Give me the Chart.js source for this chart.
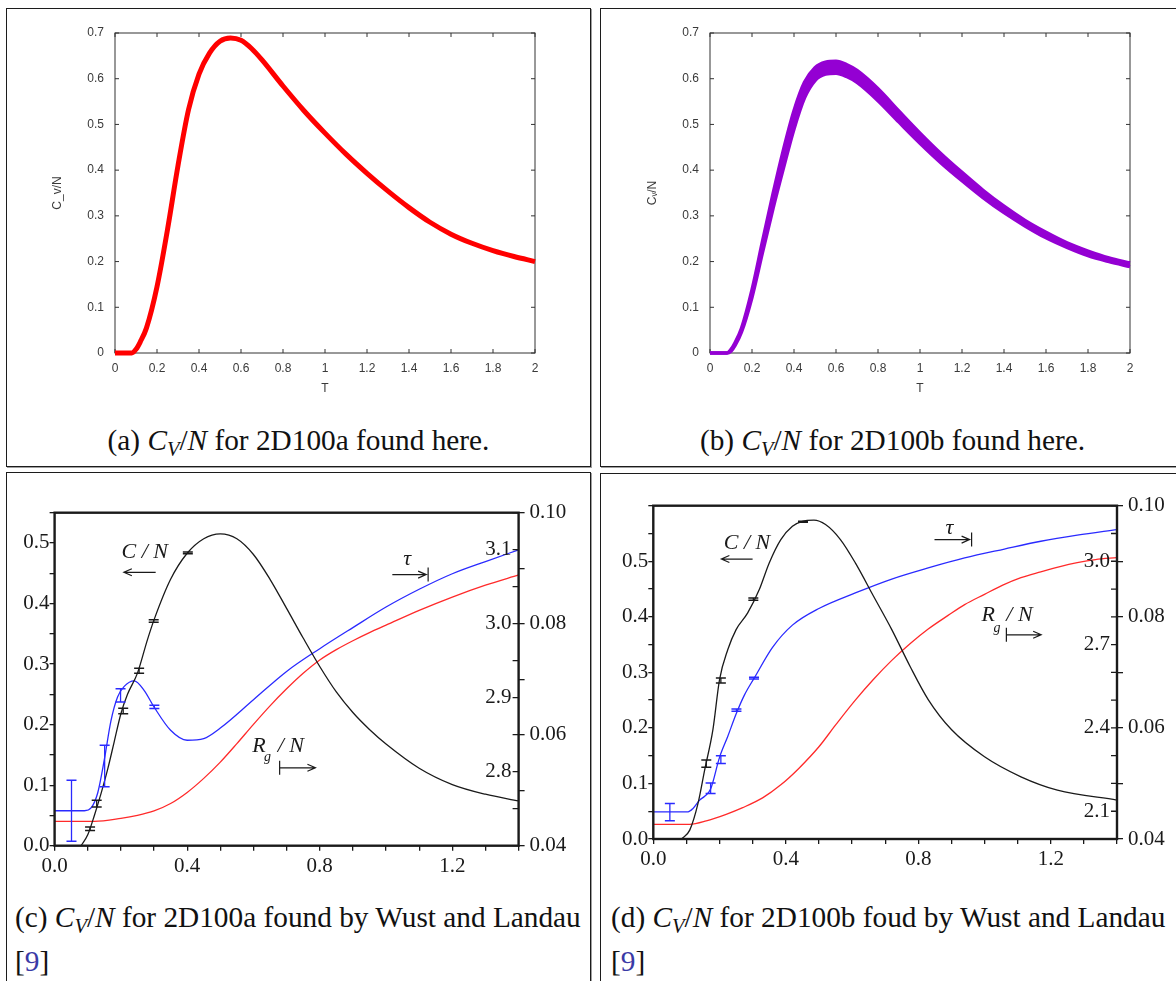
<!DOCTYPE html>
<html>
<head>
<meta charset="utf-8">
<title>C_V/N for 2D100a and 2D100b</title>
<script src="https://cdn.jsdelivr.net/npm/chart.js@4/dist/chart.umd.min.js"></script>
<style>
  html, body { margin: 0; padding: 0; background: #fff; }
  body { position: relative; width: 1176px; height: 981px; overflow: hidden; }
  .box { position: absolute; box-sizing: border-box; border: 1px solid #1c1c1c; box-shadow: 1px 1px 0 #a0a0a0; }
  canvas { position: absolute; }
  .cap { position: absolute; font-family: "Liberation Serif", "DejaVu Serif", serif; font-size: 23px; line-height: 30px; color: #111; white-space: nowrap; }
  .cap i { font-style: italic; }
  .cap sub { font-size: 0.7em; vertical-align: -0.3em; line-height: 0; }
  .cite { color: #3a3aa6; }
</style>
</head>
<body>
<div class="box" style="left:6px;top:8px;width:585px;height:459px"></div>
<div class="box" style="left:600px;top:8px;width:585px;height:459px"></div>
<div class="box" style="left:6px;top:472px;width:585px;height:530px"></div>
<div class="box" style="left:600px;top:473px;width:585px;height:530px"></div>

<canvas id="cvA" width="584" height="400" style="left:7px;top:10px"></canvas>
<canvas id="cvB" width="574" height="400" style="left:602px;top:10px"></canvas>
<canvas id="cvC" width="584" height="420" style="left:7px;top:473px"></canvas>
<canvas id="cvD" width="574" height="420" style="left:602px;top:476px"></canvas>

<div class="cap" style="left:6px;width:585px;top:425px;text-align:center">(a) <i>C</i><sub><i>V</i></sub>/<i>N</i> for 2D100a found here.</div>
<div class="cap" style="left:600px;width:585px;top:425px;text-align:center">(b) <i>C</i><sub><i>V</i></sub>/<i>N</i> for 2D100b found here.</div>
<div class="cap" id="capC" style="left:15px;top:902px">(c) <i>C</i><sub><i>V</i></sub>/<i>N</i> for 2D100a found by Wust and Landau</div>
<div class="cap" style="left:15px;top:946px">[<span class="cite">9</span>]</div>
<div class="cap" style="left:611px;top:902px">(d) <i>C</i><sub><i>V</i></sub>/<i>N</i> for 2D100b foud by Wust and Landau</div>
<div class="cap" style="left:611px;top:946px">[<span class="cite">9</span>]</div>

<script>
// Data ---

// (a) and (b): C_V/N against T, this work
const tA = [0, 0.08, 0.1, 0.12, 0.15, 0.2, 0.25, 0.3, 0.35, 0.4, 0.45, 0.5, 0.55, 0.6, 0.65, 0.7, 0.8, 0.9, 1.0, 1.1, 1.2, 1.3, 1.4, 1.5, 1.6, 1.7, 1.8, 1.9, 2.0];
const cvA = [0, 0, 0.008, 0.024, 0.055, 0.145, 0.27, 0.41, 0.532, 0.61, 0.656, 0.682, 0.689, 0.684, 0.666, 0.641, 0.584, 0.53, 0.481, 0.435, 0.393, 0.354, 0.318, 0.286, 0.26, 0.24, 0.224, 0.211, 0.2];
const tB = [0, 0.08, 0.1, 0.12, 0.15, 0.2, 0.25, 0.3, 0.35, 0.4, 0.45, 0.5, 0.55, 0.6, 0.65, 0.7, 0.8, 0.9, 1.0, 1.1, 1.2, 1.3, 1.4, 1.5, 1.6, 1.7, 1.8, 1.9, 2.0];
const cvBHi = [0, 0, 0.008, 0.023, 0.054, 0.138, 0.244, 0.348, 0.445, 0.53, 0.592, 0.624, 0.636, 0.638, 0.631, 0.618, 0.578, 0.529, 0.481, 0.436, 0.395, 0.356, 0.321, 0.29, 0.264, 0.241, 0.223, 0.208, 0.197];
const cvBLo = [0, 0, 0.004, 0.017, 0.046, 0.122, 0.22, 0.316, 0.405, 0.49, 0.558, 0.596, 0.61, 0.612, 0.605, 0.592, 0.552, 0.505, 0.459, 0.416, 0.377, 0.34, 0.307, 0.278, 0.252, 0.231, 0.213, 0.2, 0.189];

// (c) Wust and Landau, 2D100a
const tCc = [0.08, 0.1, 0.12, 0.14, 0.16, 0.18, 0.2, 0.22, 0.25, 0.28, 0.3, 0.35, 0.4, 0.45, 0.5, 0.55, 0.6, 0.65, 0.7, 0.75, 0.8, 0.85, 0.9, 0.95, 1.0, 1.1, 1.2, 1.3, 1.4];
const cC = [0, 0.018, 0.05, 0.086, 0.126, 0.172, 0.218, 0.25, 0.285, 0.34, 0.373, 0.44, 0.483, 0.507, 0.515, 0.507, 0.481, 0.44, 0.392, 0.343, 0.296, 0.254, 0.22, 0.192, 0.168, 0.128, 0.101, 0.085, 0.074];
const tTauC = [0, 0.09, 0.11, 0.13, 0.15, 0.17, 0.19, 0.21, 0.24, 0.27, 0.3, 0.35, 0.4, 0.45, 0.5, 0.6, 0.7, 0.8, 0.9, 1.0, 1.1, 1.2, 1.3, 1.4];
const tauC = [0.0463, 0.0463, 0.0468, 0.0495, 0.0555, 0.0625, 0.0668, 0.0687, 0.0697, 0.068, 0.065, 0.0608, 0.059, 0.0593, 0.0612, 0.0663, 0.0714, 0.0755, 0.0793, 0.083, 0.0862, 0.089, 0.0912, 0.0933];
const tRgC = [0, 0.12, 0.2, 0.25, 0.3, 0.35, 0.4, 0.45, 0.5, 0.55, 0.6, 0.65, 0.7, 0.75, 0.8, 0.85, 0.9, 0.95, 1.0, 1.1, 1.2, 1.3, 1.4];
const rgC = [2.733, 2.733, 2.737, 2.741, 2.747, 2.757, 2.772, 2.791, 2.813, 2.838, 2.864, 2.889, 2.912, 2.933, 2.951, 2.965, 2.977, 2.988, 2.998, 3.018, 3.036, 3.052, 3.066];
const cErrT = [0.107, 0.127, 0.207, 0.255, 0.299, 0.402];
const cErrLo = [0.025, 0.064, 0.218, 0.285, 0.369, 0.482];
const cErrHi = [0.031, 0.075, 0.227, 0.293, 0.373, 0.485];
const tauErrTC = [0.051, 0.151, 0.199, 0.301];
const tauErrLoC = [0.0408, 0.0506, 0.0659, 0.0647];
const tauErrHiC = [0.0518, 0.0581, 0.0683, 0.0653];

// (d) Wust and Landau, 2D100b
const tCd = [0.085, 0.11, 0.135, 0.155, 0.18, 0.2, 0.225, 0.25, 0.285, 0.32, 0.35, 0.385, 0.42, 0.45, 0.485, 0.52, 0.565, 0.61, 0.665, 0.72, 0.775, 0.83, 0.9, 1.0, 1.11, 1.22, 1.4];
const cD = [0, 0.016, 0.064, 0.124, 0.197, 0.287, 0.341, 0.377, 0.407, 0.449, 0.497, 0.539, 0.563, 0.572, 0.574, 0.566, 0.539, 0.497, 0.437, 0.377, 0.311, 0.251, 0.197, 0.148, 0.112, 0.088, 0.07];
const tTauD = [0, 0.105, 0.12, 0.14, 0.155, 0.173, 0.2, 0.225, 0.25, 0.275, 0.305, 0.36, 0.42, 0.5, 0.61, 0.72, 0.83, 0.94, 1.06, 1.17, 1.28, 1.4];
const tauD = [0.0449, 0.0449, 0.0455, 0.047, 0.0477, 0.049, 0.0547, 0.0585, 0.0625, 0.0659, 0.069, 0.0745, 0.0785, 0.0815, 0.0843, 0.0868, 0.0888, 0.0906, 0.0922, 0.0936, 0.0947, 0.0957];
const tRgD = [0, 0.11, 0.16, 0.22, 0.27, 0.33, 0.385, 0.44, 0.5, 0.55, 0.61, 0.665, 0.72, 0.775, 0.83, 0.89, 0.94, 1.0, 1.055, 1.11, 1.17, 1.225, 1.28, 1.335, 1.4];
const rgD = [2.053, 2.053, 2.065, 2.089, 2.113, 2.148, 2.195, 2.255, 2.332, 2.41, 2.5, 2.575, 2.643, 2.703, 2.756, 2.805, 2.844, 2.881, 2.914, 2.941, 2.962, 2.98, 2.995, 3.006, 3.013];
const dErrT = [0.16, 0.204, 0.302, 0.452];
const dErrLo = [0.129, 0.281, 0.43, 0.57];
const dErrHi = [0.142, 0.29, 0.434, 0.572];
const tauErrTD = [0.05, 0.173, 0.204, 0.251, 0.304];
const tauErrLoD = [0.0433, 0.0482, 0.0536, 0.063, 0.0688];
const tauErrHiD = [0.0464, 0.0501, 0.055, 0.0634, 0.0691];

// Tick labels
const xLabelsWL = [0, 0.4, 0.8, 1.2];
const yLabelsWL = [0, 0.1, 0.2, 0.3, 0.4, 0.5];
const tauLabels = [0.04, 0.06, 0.08, 0.1];
const rgLabelsC = [2.8, 2.9, 3.0, 3.1];
const rgLabelsD = [2.1, 2.4, 2.7, 3.0];

// Setup ---

const SERIF = '"Liberation Serif", "DejaVu Serif", serif';
const SANS = '"Liberation Sans", Arial, sans-serif';
const INK = '#1a1a1a';

Chart.defaults.animation = false;
Chart.defaults.events = [];
Chart.defaults.plugins.legend.display = false;
Chart.defaults.plugins.tooltip.enabled = false;

// caption size: make (c) as wide as in the paper
const capC = document.getElementById('capC');
const capSize = 23 * 566 / capC.getBoundingClientRect().width;
document.querySelectorAll('.cap').forEach((el) => (el.style.fontSize = capSize + 'px'));

const pts = (xs, ys) => xs.map((x, i) => ({ x: x, y: ys[i] }));
const bars = (xs, lo, hi) => xs.flatMap((x, i) => [{ x: x, y: lo[i] }, { x: x, y: hi[i] }, { x: x, y: null }]);
const isIn = (list, v) => list.some((u) => Math.abs(u - v) < 1e-6);
const short = (v) => String(Math.round(v * 10) / 10);
const fixSize = (px) => (s) => {
  if (s.isHorizontal()) s.height = px;
  else s.width = px;
};

// Drawing helpers ---

function drawFrame(chart, o) {
  const { ctx, chartArea: a, scales } = chart;
  ctx.save();
  ctx.strokeStyle = o.color;
  ctx.lineWidth = o.width;
  ctx.strokeRect(a.left, a.top, a.right - a.left, a.bottom - a.top);

  // gnuplot style ticks pointing inwards
  ctx.lineWidth = 1;
  ctx.beginPath();
  (o.inTicks || []).forEach((t) => {
    const sc = scales[t.id];
    sc.ticks.forEach((k) => {
      const p = sc.getPixelForValue(k.value);
      t.sides.forEach((side) => {
        if (side === 'bottom') { ctx.moveTo(p, a.bottom); ctx.lineTo(p, a.bottom - t.len); }
        if (side === 'top') { ctx.moveTo(p, a.top); ctx.lineTo(p, a.top + t.len); }
        if (side === 'left') { ctx.moveTo(a.left, p); ctx.lineTo(a.left + t.len, p); }
        if (side === 'right') { ctx.moveTo(a.right, p); ctx.lineTo(a.right - t.len, p); }
      });
    });
  });
  ctx.stroke();
  ctx.restore();
}

// R_g axis: ticks and labels just inside the right frame
function drawRg(chart, rg) {
  const { ctx, chartArea: a } = chart;
  const sc = chart.scales.rg;
  ctx.save();
  ctx.strokeStyle = INK;
  ctx.lineWidth = 1.3;
  ctx.beginPath();
  for (let k = 0; rg.min + k * rg.step <= rg.max + 1e-9; k++) {
    const py = sc.getPixelForValue(rg.min + k * rg.step);
    ctx.moveTo(a.right, py);
    ctx.lineTo(a.right - 6, py);
  }
  ctx.stroke();
  ctx.font = '21px ' + SERIF;
  ctx.fillStyle = INK;
  ctx.textAlign = 'right';
  ctx.textBaseline = 'middle';
  rg.labels.forEach((v) => ctx.fillText(v.toFixed(1), a.right - 7, sc.getPixelForValue(v)));
  ctx.restore();
}

function drawNotes(chart, notes) {
  const { ctx } = chart;
  const { x, y } = chart.scales;
  ctx.save();
  ctx.fillStyle = INK;
  ctx.strokeStyle = INK;
  ctx.lineWidth = 1.2;
  notes.forEach((n) => {
    if (n.text) {
      ctx.font = n.small ? 'italic 14px ' + SERIF : 'italic 22px ' + SERIF;
      ctx.textAlign = n.align || 'center';
      ctx.textBaseline = 'middle';
      ctx.fillText(n.text, x.getPixelForValue(n.x), y.getPixelForValue(n.y));
      return;
    }
    const x1 = x.getPixelForValue(n.from);
    const x2 = x.getPixelForValue(n.to);
    const py = y.getPixelForValue(n.y);
    const d = Math.sign(x2 - x1);
    ctx.beginPath();
    ctx.moveTo(x1, py);
    ctx.lineTo(x2, py);
    ctx.moveTo(x2 - d * 8, py - 3.5);
    ctx.lineTo(x2, py);
    ctx.lineTo(x2 - d * 8, py + 3.5);
    if (n.bar === 'start') { ctx.moveTo(x1, py - 7); ctx.lineTo(x1, py + 7); }
    if (n.bar === 'end') { ctx.moveTo(x2 + d * 2, py - 7); ctx.lineTo(x2 + d * 2, py + 7); }
    ctx.stroke();
  });
  ctx.restore();
}

const deco = {
  id: 'deco',
  beforeDatasetsDraw(chart, args, o) {
    if (o.frameUnder) drawFrame(chart, o);
  },
  afterDatasetsDraw(chart, args, o) {
    if (!o.frameUnder) drawFrame(chart, o);
    if (o.rg) drawRg(chart, o.rg);
    if (o.notes) drawNotes(chart, o.notes);
  },
};

// (a), (b): gnuplot look ---

function gpChart(id, datasets, yTitle, pad) {
  const tickFont = { family: SANS, size: 12 };
  return new Chart(document.getElementById(id), {
    type: 'line',
    data: { datasets: datasets },
    options: {
      responsive: false,
      layout: { padding: pad },
      scales: {
        x: {
          type: 'linear', min: 0, max: 2, afterFit: fixSize(50),
          ticks: { stepSize: 0.2, padding: 8, font: tickFont, color: '#3a3a3a', maxRotation: 0, autoSkip: false, callback: short },
          grid: { display: false, drawTicks: false },
          border: { display: false },
          title: { display: true, text: 'T', font: tickFont, color: '#3a3a3a', padding: { top: 0, bottom: 7 } },
        },
        y: {
          min: 0, max: 0.7, afterFit: fixSize(80),
          ticks: { stepSize: 0.1, padding: 11, font: tickFont, color: '#3a3a3a', autoSkip: false, callback: short },
          grid: { display: false, drawTicks: false },
          border: { display: false },
          title: { display: true, text: yTitle, font: tickFont, color: '#3a3a3a', padding: { top: 15, bottom: 0 } },
        },
      },
      plugins: {
        deco: {
          frameUnder: true, color: '#333', width: 1,
          inTicks: [
            { id: 'x', sides: ['bottom', 'top'], len: 4 },
            { id: 'y', sides: ['left', 'right'], len: 4 },
          ],
        },
      },
    },
    plugins: [deco],
  });
}

gpChart('cvA', [
  { data: pts(tA, cvA), borderColor: '#ff0000', borderWidth: 5, pointRadius: 0, cubicInterpolationMode: 'monotone', clip: 6 },
], 'C_v/N', { left: 28, right: 56, top: 23, bottom: 7 });

gpChart('cvB', [
  { data: pts(tB, cvBHi), borderColor: '#9400d3', backgroundColor: '#9400d3', borderWidth: 3.5, pointRadius: 0, cubicInterpolationMode: 'monotone', fill: '+1', clip: 6 },
  { data: pts(tB, cvBLo), borderColor: '#9400d3', borderWidth: 3.5, pointRadius: 0, cubicInterpolationMode: 'monotone', clip: 6 },
], 'C\u1D65/N', { left: 28, right: 46, top: 23, bottom: 7 });

// (c), (d): Wust and Landau ---

function curve(xs, ys, color, axis) {
  return { data: pts(xs, ys), yAxisID: axis, borderColor: color, borderWidth: 1.3, pointRadius: 0, cubicInterpolationMode: 'monotone', fill: false };
}

function errs(xs, lo, hi, color, axis) {
  return {
    data: bars(xs, lo, hi), yAxisID: axis, borderColor: color, borderWidth: 1.3,
    pointStyle: 'line', pointRadius: 5, pointBorderColor: color, pointBorderWidth: 1.5,
    spanGaps: false, fill: false,
  };
}

function wlChart(id, p) {
  const tickFont = { family: SERIF, size: 21 };
  const grid = (len) => ({ display: true, drawOnChartArea: false, drawTicks: true, tickLength: len, color: INK, lineWidth: 1.3 });
  return new Chart(document.getElementById(id), {
    type: 'line',
    data: { datasets: p.datasets },
    options: {
      responsive: false,
      layout: { padding: p.pad },
      scales: {
        x: {
          type: 'linear', min: 0, max: 1.4, afterFit: fixSize(40),
          ticks: {
            stepSize: 0.1, autoSkip: false, maxRotation: 0, padding: 3, font: tickFont, color: INK,
            callback: (v) => (isIn(xLabelsWL, v) ? v.toFixed(1) : ''),
          },
          grid: grid(5),
          border: { display: false },
        },
        y: {
          position: 'left', min: 0, max: p.yMax, afterFit: fixSize(p.yWidth),
          ticks: {
            stepSize: 0.05, autoSkip: false, padding: 0, font: tickFont, color: INK,
            callback: (v) => (isIn(yLabelsWL, v) ? v.toFixed(1) : ''),
          },
          grid: grid(5),
          border: { display: false },
        },
        tau: {
          position: 'right', min: 0.04, max: 0.1, afterFit: fixSize(p.tauWidth),
          ticks: {
            stepSize: 0.01, autoSkip: false, padding: 5, font: tickFont, color: INK,
            callback: (v) => (isIn(tauLabels, v) ? v.toFixed(2) : ''),
          },
          grid: grid(6),
          border: { display: false },
        },
        rg: { position: 'right', display: false, min: p.rg.min, max: p.rg.max },
      },
      plugins: { deco: { color: INK, width: 2.4, rg: p.rg, notes: p.notes } },
    },
    plugins: [deco],
  });
}

wlChart('cvC', {
  yMax: 0.55, yWidth: 44, tauWidth: 70,
  pad: { left: 3.6, right: 2.4, top: 39.7, bottom: 7.3 },
  rg: { min: 2.7, max: 3.15, step: 0.05, labels: rgLabelsC },
  datasets: [
    errs(cErrT, cErrLo, cErrHi, INK, 'y'),
    errs(tauErrTC, tauErrLoC, tauErrHiC, '#2a2aff', 'tau'),
    curve(tCc, cC, INK, 'y'),
    curve(tTauC, tauC, '#2a2aff', 'tau'),
    curve(tRgC, rgC, '#ff2a2a', 'rg'),
  ],
  notes: [
    { text: 'C / N', x: 0.272, y: 0.485 },
    { from: 0.305, to: 0.209, y: 0.4516 },
    { text: '\u03C4', x: 1.064, y: 0.4725 },
    { from: 1.019, to: 1.121, y: 0.4478, bar: 'end' },
    { text: 'R', x: 0.617, y: 0.1645 },
    { text: 'g', x: 0.642, y: 0.146, small: true },
    { text: '/ N', x: 0.673, y: 0.1645, align: 'left' },
    { from: 0.679, to: 0.787, y: 0.1287, bar: 'start' },
  ],
});

wlChart('cvD', {
  yMax: 0.6, yWidth: 46, tauWidth: 59,
  pad: { left: 5.3, right: 0, top: 29.7, bottom: 17 },
  rg: { min: 2.0, max: 3.2, step: 0.1, labels: rgLabelsD },
  datasets: [
    errs(dErrT, dErrLo, dErrHi, INK, 'y'),
    errs(tauErrTD, tauErrLoD, tauErrHiD, '#2a2aff', 'tau'),
    curve(tCd, cD, INK, 'y'),
    curve(tTauD, tauD, '#2a2aff', 'tau'),
    curve(tRgD, rgD, '#ff2a2a', 'rg'),
  ],
  notes: [
    { text: 'C / N', x: 0.283, y: 0.533 },
    { from: 0.2998, to: 0.2055, y: 0.504 },
    { text: '\u03C4', x: 0.894, y: 0.56 },
    { from: 0.849, to: 0.955, y: 0.539, bar: 'end' },
    { text: 'R', x: 1.011, y: 0.4036 },
    { text: 'g', x: 1.038, y: 0.38, small: true },
    { text: '/ N', x: 1.066, y: 0.4036, align: 'left' },
    { from: 1.066, to: 1.171, y: 0.3676, bar: 'start' },
  ],
});
</script>
</body>
</html>
